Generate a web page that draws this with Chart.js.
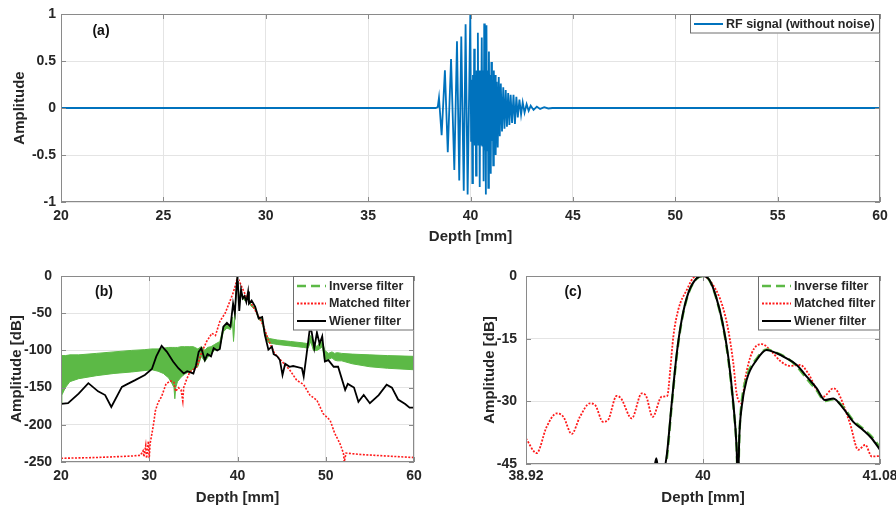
<!DOCTYPE html>
<html>
<head>
<meta charset="utf-8">
<script src="https://cdn.jsdelivr.net/npm/chart.js@4.4.0/dist/chart.umd.min.js"></script>
<style>
    body { margin: 0; background: #fff; }
    #wrap { position: relative; width: 896px; height: 509px; background: #fff; }
    canvas { position: absolute; }
</style>
</head>
<body>
<div id="wrap">
    <canvas id="chartA" width="896" height="250" style="left:0;top:0"></canvas>
    <canvas id="chartB" width="450" height="259" style="left:0;top:250px"></canvas>
    <canvas id="chartC" width="446" height="259" style="left:450px;top:250px"></canvas>
</div>
<script>
// ---- data ----

// (a) RF signal, depth in mm
const rfDepth = [20, 38.30, 38.40, 38.46, 38.59, 38.75, 38.89, 39.05, 39.21, 39.34, 39.45, 39.55, 39.67, 39.76, 39.86, 39.99,
    40.03, 40.06, 40.09, 40.12, 40.15, 40.18, 40.21, 40.24, 40.27, 40.30, 40.33, 40.36, 40.39, 40.42, 40.45, 40.48, 40.51, 40.55, 40.58, 40.61,
    40.64, 40.67, 40.70, 40.72, 40.75, 40.78, 40.81, 40.84, 40.87, 40.90, 40.93, 40.96, 40.99, 41.02, 41.05, 41.08, 41.11, 41.14, 41.17, 41.20, 41.23,
    41.28, 41.33, 41.38, 41.43, 41.48, 41.54, 41.60, 41.66, 41.72, 41.78, 41.84, 41.90, 41.96, 42.03, 42.10, 42.17, 42.24, 42.31, 42.39, 42.47,
    42.55, 42.64, 42.74, 42.84, 42.94, 43.08, 43.24, 43.40, 43.60, 43.80, 44.00, 60];
const rfAmp = [0, 0, 0.01, 0.11, -0.29, 0.40, -0.47, 0.52, -0.66, 0.71, -0.77, 0.76, -0.88, 0.89, -0.92, 1.00,
    -0.35, 0.30, -0.80, 0.35, -0.35, 0.63, -0.40, 0.35, -0.72, 0.40, -0.35, 0.80, -0.40, 0.40, -0.84, 0.35, -0.40, 0.75, -0.40, 0.40,
    -0.78, 0.90, -0.45, 0.40, -0.92, 0.88, -0.45, 0.40, -0.85, 0.60, -0.40, 0.35, -0.70, 0.49, -0.35, 0.30, -0.61, 0.40, -0.30, 0.35, -0.50,
    0.28, -0.42, 0.33, -0.30, 0.26, -0.25, 0.22, -0.22, 0.19, -0.20, 0.16, -0.18, 0.14, -0.16, 0.14, -0.17, 0.12, -0.10, 0.09, -0.07,
    0.06, -0.05, 0.04, -0.03, 0.025, -0.02, 0.015, -0.01, 0.008, -0.005, 0, 0];

// (b) full depth range, dB
const bWienerDepth = [20, 20.8, 22.0, 23.1, 24.2, 25.0, 25.7, 26.9, 27.4, 28.4, 29.5, 30.3, 30.8, 31.4, 32.0, 32.7, 33.3, 33.9, 34.3, 35.0,
    35.3, 35.6, 35.9, 36.3, 36.6, 37.0, 37.3, 37.7, 38.0, 38.4, 38.8, 39.2, 39.5, 39.7, 39.9, 40.0, 40.2, 40.4, 40.6, 40.8,
    41.0, 41.2, 41.3, 41.6, 42.0, 42.4, 42.8, 43.1, 43.5, 43.9, 44.1, 44.5, 44.8, 45.1, 45.4, 45.9, 46.3, 46.7, 47.3, 47.5,
    47.8, 48.2, 48.4, 48.7, 49.0, 49.3, 49.6, 49.9, 50.3, 50.9, 51.4, 52.2, 52.5, 53.2, 53.7, 54.3, 55.0, 56.0, 56.9, 57.5,
    58.2, 59.0, 59.5, 60];
const bWienerDb = [-172, -171, -158, -144, -155, -160, -176, -149, -146, -140, -133, -125, -108, -94, -102, -115, -124, -131, -128, -131,
    -120, -102, -97, -113, -105, -108, -97, -100, -98, -68, -63, -68, -37, -50, -12, 0, -47, -18, -30, -27,
    -35, -21, -37, -33, -41, -57, -55, -79, -99, -95, -105, -108, -113, -133, -118, -122, -121, -122, -124, -135,
    -108, -70, -75, -97, -76, -91, -81, -115, -113, -122, -122, -153, -145, -150, -169, -160, -171, -160, -146, -150,
    -166, -172, -177, -177];

const bMatchedDepth = [20, 24, 28, 29.0, 29.3, 29.4, 29.6, 29.7, 29.9, 30.0, 30.1, 30.3, 30.5, 30.7, 31.0, 31.4, 31.9, 32.4, 32.8, 33.0,
    33.3, 33.6, 33.8, 33.9, 34.2, 34.6, 35.4, 35.9, 36.5, 37.1, 37.5, 38.0, 38.6, 39.2, 39.5, 39.8, 40.0, 40.5, 41.0, 41.6,
    42.2, 42.9, 43.5, 44.2, 45.2, 45.9, 46.7, 47.5, 48.2, 49.0, 49.7, 50.5, 51.0, 51.6, 52.0, 52.1, 52.3, 54, 57, 60];
const bMatchedDb = [-245, -244, -242, -241, -235, -243, -228, -245, -222, -245, -225, -212, -198, -181, -170, -162, -145, -141, -143, -155,
    -150, -153, -168, -150, -140, -129, -122, -104, -88, -77, -80, -61, -50, -32, -23, -11, -1, -15, -28, -38,
    -50, -66, -86, -104, -117, -126, -140, -146, -160, -167, -185, -194, -211, -225, -238, -250, -238, -240, -242, -244];

// inverse filter oscillates fast, kept as its upper / lower envelope
const bInvDepth = [20, 20.1, 20.5, 21, 22, 24, 26, 28, 29.5, 30.3, 31, 31.6, 32.2, 32.6, 32.8, 32.9, 33.0, 33.2, 33.6, 34.0,
    34.6, 35.0, 35.5, 35.9, 36.3, 36.6, 37.0, 37.4, 38.0, 38.4, 38.8, 39.2, 39.45, 39.55, 39.7, 39.9, 40.0, 40.2, 40.4, 40.8,
    41.2, 41.5, 42.0, 42.4, 42.8, 43.1, 43.4, 43.6, 44.5, 46, 47.5, 48.0, 48.3, 48.6, 49.0, 49.3, 49.6, 49.9, 50.3, 50.7,
    51.0, 51.3, 51.8, 53, 55, 57, 60];
const bInvUpper = [-108, -107, -107, -106, -106, -104, -102, -100, -99, -98, -98, -97, -96, -96, -96, -96, -96, -96, -95, -95,
    -95, -95, -98, -95, -100, -96, -95, -92, -88, -68, -65, -68, -55, -84, -50, -10, 0, -30, -22, -30,
    -26, -38, -42, -55, -58, -75, -82, -84, -86, -88, -90, -91, -80, -90, -95, -90, -88, -100, -104, -102,
    -104, -103, -104, -105, -106, -107, -108];
const bInvLower = [-172, -160, -150, -142, -138, -134, -131, -129, -127, -126, -128, -131, -137, -145, -150, -165, -150, -142, -136, -132,
    -128, -125, -122, -108, -115, -110, -104, -100, -96, -75, -70, -72, -60, -88, -55, -12, -2, -33, -25, -33,
    -30, -40, -45, -58, -62, -80, -88, -90, -92, -94, -96, -97, -88, -100, -100, -98, -95, -115, -112, -110,
    -113, -114, -114, -118, -122, -124, -126];

// (c) zoom around the main lobe, dB
const cMatchedDepth = [38.92, 38.985, 39.046, 39.107, 39.148, 39.199, 39.249, 39.31, 39.34, 39.39, 39.42, 39.473, 39.50, 39.565, 39.626, 39.65,
    39.693, 39.748, 39.782, 39.80, 39.819, 39.849, 39.90, 39.95, 40.0, 40.08, 40.12, 40.154, 40.185, 40.205, 40.236, 40.256,
    40.297, 40.358, 40.419, 40.47, 40.531, 40.592, 40.642, 40.703, 40.734, 40.795, 40.82, 40.897, 40.947, 40.99, 41.03, 41.08];
const cMatchedDb = [-38.9, -42.4, -36.1, -32.9, -33.7, -37.8, -33.7, -30.5, -30.8, -34.9, -34.5, -28.7, -29.3, -34.1, -28.1, -28.5,
    -33.7, -28.9, -28.7, -22.5, -14.5, -8.1, -3.4, -0.2, 0, -3.4, -7.3, -12.9, -20.9, -28.1, -30.5, -24.9,
    -18.5, -16.3, -18.1, -20.3, -21.5, -21.3, -23.3, -27.9, -28.9, -26.9, -27.6, -35.3, -41.6, -40.4, -43.2, -43.1];

const cWienerDepth = [39.70, 39.715, 39.73, 39.755, 39.778, 39.809, 39.84, 39.87, 39.91, 39.96, 40.0, 40.04, 40.08, 40.12, 40.154, 40.185,
    40.205, 40.213, 40.222, 40.236, 40.266, 40.327, 40.388, 40.45, 40.51, 40.572, 40.633, 40.694, 40.744, 40.795, 40.856, 40.917,
    40.978, 41.03, 41.08];
const cWienerDb = [-47, -43.6, -47, -47, -43.2, -30.5, -18.5, -10.5, -4.1, -0.6, 0, -1, -5, -11.3, -19.3, -30.5,
    -41, -50, -38, -31.3, -24.9, -20.1, -17.7, -18.5, -19.7, -21.3, -24.1, -26.9, -29.7, -29.3, -31.7, -34.9,
    -36.9, -38.9, -41.6];

const cInvDepth = [39.762, 39.778, 39.809, 39.84, 39.87, 39.91, 39.96, 40.0, 40.04, 40.08, 40.12, 40.154, 40.185, 40.205, 40.213, 40.222,
    40.236, 40.266, 40.327, 40.388, 40.45, 40.51, 40.572, 40.633, 40.694, 40.744, 40.795, 40.856, 40.917, 40.978, 41.03, 41.08];
const cInvDb = [-47, -44, -31, -19, -10.8, -4.3, -0.7, 0, -1.1, -5.2, -11.6, -19.8, -31, -41, -50, -38,
    -30.2, -24.2, -19.8, -17.6, -18.4, -19.6, -21.6, -24.6, -27.4, -29.9, -29.5, -31.4, -34.6, -36.6, -38.5, -41];

// tick values and labels
const aXTicks = [20, 25, 30, 35, 40, 45, 50, 55, 60];
const aXLabels = ['20', '25', '30', '35', '40', '45', '50', '55', '60'];
const aYTicks = [-1, -0.5, 0, 0.5, 1];
const aYLabels = ['-1', '-0.5', '0', '0.5', '1'];
const bXTicks = [20, 30, 40, 50, 60];
const bXLabels = ['20', '30', '40', '50', '60'];
const bYTicks = [-250, -200, -150, -100, -50, 0];
const bYLabels = ['-250', '-200', '-150', '-100', '-50', '0'];
const cXTicks = [38.92, 40, 41.08];
const cXLabels = ['38.92', '40', '41.08'];
const cYTicks = [-45, -30, -15, 0];
const cYLabels = ['-45', '-30', '-15', '0'];

// ---- styling ----
const FONT = '"Liberation Sans", Arial, sans-serif';
const TEXT = '#262626';
const GRID = '#e4e4e4';
const BOX = '#8a8a8a';
const BLUE = '#0072BD';
const GREEN = '#5cb946';
const RED = '#ff1a1a';

function pts(xs, ys) {
    return xs.map((x, i) => ({ x: x, y: ys[i] }));
}

// axes box, inward ticks, panel tag and a MATLAB-like legend
function framePlugin(tag, tagDx, tagDy, legendItems, legendWidth) {
    return {
        id: 'frame',
        afterDraw(chart) {
            const ctx = chart.ctx;
            const a = chart.chartArea;
            const sx = chart.scales.x, sy = chart.scales.y;
            ctx.save();

            ctx.strokeStyle = BOX;
            ctx.lineWidth = 1;
            ctx.beginPath();
            sx.ticks.forEach(t => {
                const px = Math.round(sx.getPixelForValue(t.value)) + 0.5;
                ctx.moveTo(px, a.bottom); ctx.lineTo(px, a.bottom - 5);
                ctx.moveTo(px, a.top); ctx.lineTo(px, a.top + 5);
            });
            sy.ticks.forEach(t => {
                const py = Math.round(sy.getPixelForValue(t.value)) + 0.5;
                ctx.moveTo(a.left, py); ctx.lineTo(a.left + 5, py);
                ctx.moveTo(a.right, py); ctx.lineTo(a.right - 5, py);
            });
            ctx.stroke();
            ctx.strokeRect(a.left + 0.5, a.top + 0.5, a.right - a.left - 1, a.bottom - a.top - 1);

            // panel tag
            ctx.fillStyle = '#111';
            ctx.font = 'bold 14px ' + FONT;
            ctx.textAlign = 'center';
            ctx.textBaseline = 'middle';
            ctx.fillText(tag, a.left + tagDx, a.top + tagDy);

            // legend
            const rowH = 17.5;
            const h = legendItems.length * rowH + 2;
            const lx = a.right - legendWidth, ly = a.top;
            ctx.fillStyle = '#fff';
            ctx.fillRect(lx, ly, legendWidth, h);
            ctx.strokeStyle = '#6e6e6e';
            ctx.strokeRect(lx + 0.5, ly + 0.5, legendWidth - 1, h - 1);
            ctx.font = 'bold 12.5px ' + FONT;
            ctx.textAlign = 'left';
            legendItems.forEach((it, i) => {
                const cy = ly + 10 + i * rowH;
                ctx.strokeStyle = it.color;
                ctx.lineWidth = it.width;
                ctx.setLineDash(it.dash || []);
                ctx.beginPath();
                ctx.moveTo(lx + 4, cy); ctx.lineTo(lx + 33, cy);
                ctx.stroke();
                ctx.setLineDash([]);
                ctx.fillStyle = TEXT;
                ctx.fillText(it.label, lx + 36, cy + 0.5);
            });
            ctx.restore();
        }
    };
}

function makeScales(o) {
    const tickFont = { family: FONT, size: 14, weight: 'bold' };
    const titleFont = { family: FONT, size: 15, weight: 'bold' };
    return {
        x: {
            type: 'linear', min: o.xMin, max: o.xMax,
            afterBuildTicks: s => { s.ticks = o.xTicks.map(v => ({ value: v })); },
            afterFit: s => { s.height = o.xH; s.paddingLeft = 0; s.paddingRight = 0; },
            ticks: { font: tickFont, color: TEXT, padding: o.xPad, maxRotation: 0, autoSkip: false,
                callback: (v, i) => o.xLabels[i] },
            grid: { color: GRID, drawTicks: false },
            border: { display: false },
            title: { display: true, text: 'Depth [mm]', font: titleFont, color: TEXT,
                padding: { top: 0, bottom: o.xTitlePad } }
        },
        y: {
            type: 'linear', min: o.yMin, max: o.yMax,
            afterBuildTicks: s => { s.ticks = o.yTicks.map(v => ({ value: v })); },
            afterFit: s => { s.width = o.yW; s.paddingTop = 0; s.paddingBottom = 0; },
            ticks: { font: tickFont, color: TEXT, padding: o.yPad, autoSkip: false,
                callback: (v, i) => o.yLabels[i] },
            grid: { color: GRID, drawTicks: false },
            border: { display: false },
            title: { display: true, text: o.yTitle, font: titleFont, color: TEXT,
                padding: { top: o.yTitlePad, bottom: 0 } }
        }
    };
}

const baseOptions = {
    responsive: false,
    animation: false,
    devicePixelRatio: 1,
    plugins: { legend: { display: false }, tooltip: { enabled: false } },
    elements: { point: { radius: 0 } }
};

const legendB = [
    { label: 'Inverse filter', color: GREEN, width: 2.5, dash: [9, 5] },
    { label: 'Matched filter', color: RED, width: 1.8, dash: [2, 1.5] },
    { label: 'Wiener filter', color: '#000', width: 2 }
];

// (a) RF signal
new Chart(document.getElementById('chartA'), {
    type: 'line',
    data: {
        datasets: [{
            label: 'RF signal (without noise)',
            data: pts(rfDepth, rfAmp),
            borderColor: BLUE, borderWidth: 1.8, tension: 0
        }]
    },
    options: Object.assign({}, baseOptions, {
        layout: { padding: { left: 0, right: 16, top: 14, bottom: 0 } },
        scales: makeScales({
            xMin: 20, xMax: 60, xTicks: aXTicks, xLabels: aXLabels, xH: 48, xPad: 6, xTitlePad: 4,
            yMin: -1, yMax: 1, yTicks: aYTicks, yLabels: aYLabels, yW: 61, yPad: 5, yTitlePad: 11,
            yTitle: 'Amplitude'
        })
    }),
    plugins: [framePlugin('(a)', 40, 17,
        [{ label: 'RF signal (without noise)', color: BLUE, width: 2 }], 190)]
});

// (b) compressed pulses, full depth
new Chart(document.getElementById('chartB'), {
    type: 'line',
    data: {
        datasets: [
            { label: 'Wiener filter', data: pts(bWienerDepth, bWienerDb), borderColor: '#000', borderWidth: 1.8, tension: 0 },
            { label: 'Matched filter', data: pts(bMatchedDepth, bMatchedDb), borderColor: RED, borderWidth: 1.6,
                borderDash: [2, 1.5], tension: 0 },
            { label: 'Inverse filter', data: pts(bInvDepth, bInvUpper), borderColor: GREEN, backgroundColor: GREEN,
                borderWidth: 1, fill: '+1', tension: 0 },
            { label: 'Inverse filter (lower)', data: pts(bInvDepth, bInvLower), borderColor: GREEN,
                borderWidth: 1, fill: false, tension: 0 }
        ]
    },
    options: Object.assign({}, baseOptions, {
        layout: { padding: { left: 0, right: 36, top: 26, bottom: 0 } },
        scales: makeScales({
            xMin: 20, xMax: 60, xTicks: bXTicks, xLabels: bXLabels, xH: 47, xPad: 6, xTitlePad: 2,
            yMin: -250, yMax: 0, yTicks: bYTicks, yLabels: bYLabels, yW: 61, yPad: 9, yTitlePad: 8,
            yTitle: 'Amplitude [dB]'
        })
    }),
    plugins: [framePlugin('(b)', 43, 16, legendB, 121)]
});

// (c) zoom on the main lobe
new Chart(document.getElementById('chartC'), {
    type: 'line',
    data: {
        datasets: [
            { label: 'Wiener filter', data: pts(cWienerDepth, cWienerDb), borderColor: '#000', borderWidth: 2,
                cubicInterpolationMode: 'monotone' },
            { label: 'Inverse filter', data: pts(cInvDepth, cInvDb), borderColor: GREEN, borderWidth: 2.5,
                borderDash: [9, 5], cubicInterpolationMode: 'monotone' },
            { label: 'Matched filter', data: pts(cMatchedDepth, cMatchedDb), borderColor: RED, borderWidth: 1.8,
                borderDash: [2, 1.5], cubicInterpolationMode: 'monotone' }
        ]
    },
    options: Object.assign({}, baseOptions, {
        layout: { padding: { left: 0, right: 16, top: 26, bottom: 0 } },
        scales: makeScales({
            xMin: 38.92, xMax: 41.08, xTicks: cXTicks, xLabels: cXLabels, xH: 45, xPad: 4, xTitlePad: 2,
            yMin: -45, yMax: 0, yTicks: cYTicks, yLabels: cYLabels, yW: 76, yPad: 9, yTitlePad: 31,
            yTitle: 'Amplitude [dB]'
        })
    }),
    plugins: [framePlugin('(c)', 47, 16, legendB, 122)]
});
</script>
</body>
</html>
